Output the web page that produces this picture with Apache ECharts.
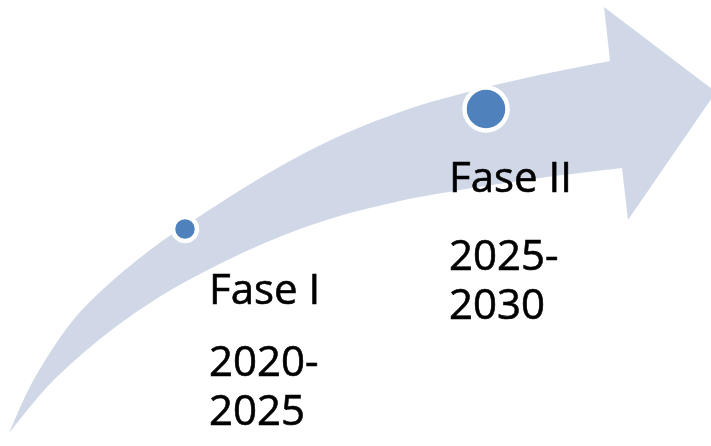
<!DOCTYPE html>
<html>
<head>
<meta charset="utf-8">
<script src="https://cdn.jsdelivr.net/npm/echarts@6/dist/echarts.min.js"></script>
<style>
  html, body { margin: 0; padding: 0; background: #fff; }
  #chart { width: 711px; height: 446px; }
</style>
</head>
<body>
<div id="chart"></div>
<script>
// phases on the timeline
const phaseNames = ['Fase I', 'Fase II'];
const phasePeriods = ['2020-\n2025', '2025-\n2030'];

// points in picture space (x right, y down)
const markerPoints = [[185, 229], [486, 109]];
const namePoints = [[209, 292], [449, 180]];
const periodPoints = [[209, 389], [449, 283]];

// arrow outline: upper edge from tail to head, head, lower edge from tail to head
const arrowUpper = [[9, 433], [33, 381], [67, 328], [100, 292], [150, 250], [200, 216],
  [267, 174], [333, 139], [400, 112], [460, 94], [530, 77], [610, 61]];
const arrowHead = [[604, 7], [716, 92], [628, 220]];
const arrowLower = [[9, 433], [50, 384], [100, 339], [150, 303], [200, 274], [267, 242],
  [333, 218], [400, 201], [460, 190], [540, 178], [622, 168]];

const chart = echarts.init(document.getElementById('chart'), null, { renderer: 'canvas' });

// smooth path through points (catmull-rom -> bezier)
function smoothSegs(pts) {
  let d = '';
  for (let i = 0; i < pts.length - 1; i++) {
    const p0 = pts[Math.max(i - 1, 0)];
    const p1 = pts[i];
    const p2 = pts[i + 1];
    const p3 = pts[Math.min(i + 2, pts.length - 1)];
    const c1 = [p1[0] + (p2[0] - p0[0]) / 6, p1[1] + (p2[1] - p0[1]) / 6];
    const c2 = [p2[0] - (p3[0] - p1[0]) / 6, p2[1] - (p3[1] - p1[1]) / 6];
    d += ' C' + c1[0] + ' ' + c1[1] + ' ' + c2[0] + ' ' + c2[1] + ' ' + p2[0] + ' ' + p2[1];
  }
  return d;
}

function renderArrow(params, api) {
  const up = arrowUpper.map((p) => api.coord(p));
  const head = arrowHead.map((p) => api.coord(p));
  const low = arrowLower.map((p) => api.coord(p)).reverse();
  let d = 'M' + up[0][0] + ' ' + up[0][1] + smoothSegs(up);
  head.forEach((p) => { d += ' L' + p[0] + ' ' + p[1]; });
  d += ' L' + low[0][0] + ' ' + low[0][1] + smoothSegs(low) + ' Z';
  return {
    type: 'path',
    shape: { pathData: d },
    style: { fill: '#D0D8E8' }
  };
}

// text blocks, drawn at data points
function renderText(params, api) {
  const pt = api.coord([api.value(0), api.value(1)]);
  const item = textData[params.dataIndex];
  return {
    type: 'text',
    x: pt[0],
    y: pt[1],
    style: {
      text: item.text,
      fill: '#000',
      fontFamily: 'Open Sans',
      fontSize: 42,
      lineHeight: 49,
      align: 'left',
      verticalAlign: 'middle',
      stroke: '#000',
      lineWidth: 0.6
    }
  };
}

const textData = [];
namePoints.forEach((p, i) => textData.push({ value: p, text: phaseNames[i] }));
periodPoints.forEach((p, i) => textData.push({ value: p, text: phasePeriods[i] }));

const option = {
  animation: false,
  backgroundColor: '#fff',
  grid: { left: 0, right: 0, top: 0, bottom: 0 },
  xAxis: { type: 'value', min: 0, max: 711, show: false },
  yAxis: { type: 'value', min: 0, max: 446, inverse: true, show: false },
  series: [
    {
      type: 'custom',
      renderItem: renderArrow,
      data: [[0, 0]],
      silent: true,
      z: 1
    },
    {
      type: 'scatter',
      data: markerPoints,
      symbol: 'circle',
      symbolSize: (val, p) => (p.dataIndex === 0 ? 24 : 43),
      itemStyle: {
        color: '#4F81BD',
        borderColor: '#fff',
        borderWidth: 4.5,
        opacity: 1
      },
      z: 3
    },
    {
      type: 'custom',
      renderItem: renderText,
      data: textData.map((d) => d.value),
      silent: true,
      z: 4
    }
  ]
};

chart.setOption(option);
</script>
</body>
</html>
